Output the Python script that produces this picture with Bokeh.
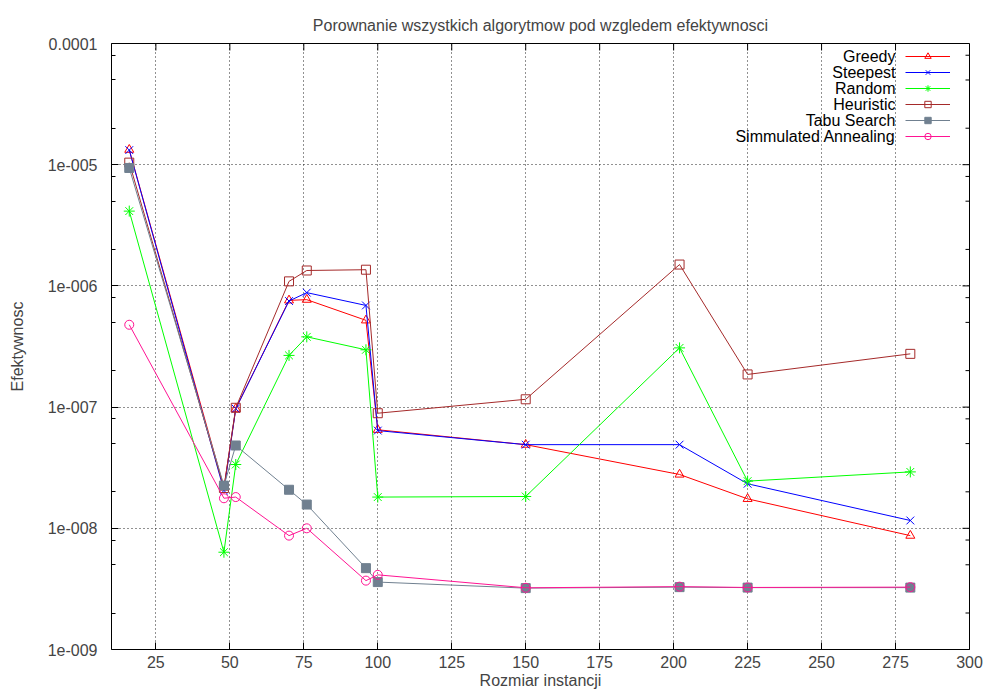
import math
from bokeh.plotting import figure
from bokeh.models import Range1d, FixedTicker, Legend, LegendItem, Label
from bokeh.embed import file_html
from bokeh.resources import INLINE

# Instance sizes (number of cities)
sizes = [16, 48, 52, 70, 76, 96, 100, 150, 202, 225, 280]

# Efficiency of each algorithm per instance
greedy = [1.33e-5, 2.17e-8, 9.7e-8, 7.6e-7, 7.7e-7, 5.2e-7, 6.5e-8, 4.9e-8, 2.78e-8, 1.75e-8, 8.7e-9]
steepest = [1.32e-5, 2.05e-8, 9.7e-8, 7.5e-7, 8.8e-7, 6.9e-7, 6.4e-8, 4.9e-8, 4.9e-8, 2.33e-8, 1.16e-8]
random_alg = [4.14e-6, 6.35e-9, 3.36e-8, 2.67e-7, 3.8e-7, 2.97e-7, 1.81e-8, 1.83e-8, 3.08e-7, 2.45e-8, 2.92e-8]
heuristic = [1.04e-5, 2.15e-8, 9.87e-8, 1.09e-6, 1.34e-6, 1.36e-6, 8.9e-8, 1.16e-7, 1.50e-6, 1.86e-7, 2.75e-7]
tabu = [9.4e-6, 2.25e-8, 4.82e-8, 2.08e-8, 1.57e-8, 4.69e-9, 3.6e-9, 3.21e-9, 3.27e-9, 3.24e-9, 3.24e-9]
annealing = [4.78e-7, 1.77e-8, 1.81e-8, 8.7e-9, 1.0e-8, 3.7e-9, 4.13e-9, 3.23e-9, 3.3e-9, 3.25e-9, 3.27e-9]

series_names = ["Greedy", "Steepest", "Random", "Heuristic", "Tabu Search", "Simmulated Annealing"]

# Axis ranges, ticks and labels
x_min, x_max = 10, 300
y_min, y_max = 1e-9, 1e-4
x_ticks = [25, 50, 75, 100, 125, 150, 175, 200, 225, 250, 275, 300]
y_ticks = [1e-9, 1e-8, 1e-7, 1e-6, 1e-5, 1e-4]
y_tick_labels = ["1e-009", "1e-008", "1e-007", "1e-006", "1e-005", "0.0001"]
y_minor = [m * d for d in [1e-9, 1e-8, 1e-7, 1e-6, 1e-5] for m in (2, 5, 8)]

FONT = "Liberation Sans"
FS = "16px"
FRAME_W, FRAME_H = 858, 606
TICK_MAJOR, TICK_MINOR = 7, 4

styles = [
    dict(color="#ff0000", marker="triangle", size=9, fill=False),
    dict(color="#0000ff", marker="x", size=11, fill=False),
    dict(color="#00ff00", marker="asterisk", size=11, fill=False),
    dict(color="#a52a2a", marker="square", size=9, fill=False),
    dict(color="#708090", marker="square", size=9, fill=True),
    dict(color="#ff1493", marker="circle", size=9, fill=False),
]
values = [greedy, steepest, random_alg, heuristic, tabu, annealing]

p = figure(
    frame_width=FRAME_W, frame_height=FRAME_H,
    x_range=Range1d(x_min, x_max), y_range=Range1d(y_min, y_max),
    y_axis_type="log",
    output_backend="svg", toolbar_location=None,
    min_border_left=111, min_border_right=19, min_border_top=43, min_border_bottom=42,
    title="Porownanie wszystkich algorytmow pod wzgledem efektywnosci",
)
p.background_fill_color = "white"
p.border_fill_color = "white"
p.outline_line_color = "black"
p.outline_line_width = 1

p.title.align = "center"
p.title.vertical_align = "top"
p.title.text_font = FONT
p.title.text_font_size = FS
p.title.text_font_style = "normal"
p.title.standoff = 16

# Bottom axis
xa = p.xaxis[0]
xa.ticker = FixedTicker(ticks=x_ticks)
xa.axis_label = "Rozmiar instancji"
xa.axis_label_text_font = FONT
xa.axis_label_text_font_size = FS
xa.axis_label_text_font_style = "normal"
xa.axis_label_standoff = 1
xa.major_label_text_font = FONT
xa.major_label_text_font_size = FS
xa.major_label_standoff = 6
xa.major_tick_in = TICK_MAJOR
xa.major_tick_out = 0
xa.minor_tick_line_color = None
xa.axis_line_color = None

# Left axis
ya = p.yaxis[0]
ya.ticker = FixedTicker(ticks=y_ticks, minor_ticks=y_minor)
ya.major_label_overrides = dict(zip(y_ticks, y_tick_labels))
ya.axis_label = "Efektywnosc"
ya.axis_label_text_font = FONT
ya.axis_label_text_font_size = FS
ya.axis_label_text_font_style = "normal"
ya.axis_label_standoff = 19
ya.major_label_text_font = FONT
ya.major_label_text_font_size = FS
ya.major_label_standoff = 14
ya.major_tick_in = TICK_MAJOR
ya.major_tick_out = 0
ya.minor_tick_in = TICK_MINOR
ya.minor_tick_out = 0
ya.axis_line_color = None

# Mirrored ticks along the top and right borders
p.ray(x=x_ticks, y=[y_max] * len(x_ticks), length=TICK_MAJOR, length_units="screen",
      angle=-math.pi / 2, line_color="black", line_width=1)
p.ray(x=[x_max] * len(y_ticks), y=y_ticks, length=TICK_MAJOR, length_units="screen",
      angle=math.pi, line_color="black", line_width=1)
p.ray(x=[x_max] * len(y_minor), y=y_minor, length=TICK_MINOR, length_units="screen",
      angle=math.pi, line_color="black", line_width=1)

# Dotted grid
p.xgrid.ticker = FixedTicker(ticks=x_ticks)
p.ygrid.ticker = FixedTicker(ticks=y_ticks)
p.grid.grid_line_color = "#222222"
p.grid.grid_line_dash = "1 3"
p.grid.grid_line_width = 1

items = []
for name, vals, st in zip(series_names, values, styles):
    ln = p.line(sizes, vals, line_color=st["color"], line_width=1)
    mk = p.scatter(sizes, vals, marker=st["marker"], size=st["size"],
                   line_color=st["color"], line_width=1,
                   fill_color=st["color"] if st["fill"] else None)
    items.append(LegendItem(label=" ", renderers=[ln, mk]))

# Key: line samples at the right, names right-aligned before them
ROW_H, GLYPH_W, TEXT_GAP = 16, 45, 10
KEY_LEFT, KEY_TOP = 794, 5
legend = Legend(
    items=items,
    location=(KEY_LEFT, FRAME_H - KEY_TOP - ROW_H * len(items)),
    padding=0, margin=0, spacing=0,
    glyph_width=GLYPH_W, glyph_height=ROW_H, label_height=ROW_H, label_width=0,
    label_standoff=0, label_text_font_size="10px",
    border_line_color=None, background_fill_alpha=0,
)
p.add_layout(legend)

for i, name in enumerate(series_names):
    p.add_layout(Label(
        x=KEY_LEFT - TEXT_GAP, y=FRAME_H - KEY_TOP - ROW_H * (i + 0.5),
        x_units="screen", y_units="screen", text=name,
        text_align="right", text_baseline="middle",
        text_font=FONT, text_font_size=FS, text_color="black",
    ))

open("out.html", "w").write(file_html(p, INLINE))
